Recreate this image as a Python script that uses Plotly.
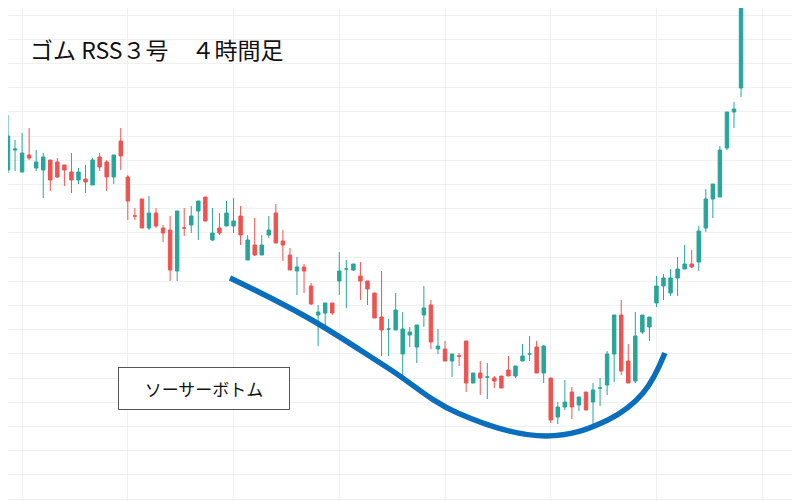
import plotly.graph_objects as go

# 4-hour candles (price units arbitrary)
opens = [338, 358, 336, 353, 340, 338, 348, 346, 343, 336, 328, 329, 323, 351, 346, 331, 367, 331, 292, 309,
         280, 295, 280, 278, 237, 280, 283, 297, 311, 268, 280, 282, 282, 292, 248, 263, 253, 273, 295, 267,
         253, 237, 241, 222, 193, 195, 205, 227, 239, 238, 232, 227, 215, 191, 179, 178, 154, 173, 161, 193,
         203, 159, 159, 147, 152, 167, 125, 135, 131, 130, 132, 138, 132, 147, 154, 161, 135, 130, 91, 101,
         116, 103, 116, 106, 120, 123, 154, 193, 147, 127, 176, 181, 205, 222, 215, 230, 239, 244, 246, 280,
         309, 311, 360, 396, 420]
highs = [393, 368, 375, 380, 358, 355, 348, 350, 343, 355, 340, 343, 350, 355, 348, 353, 380, 333, 300, 309,
         312, 300, 283, 292, 297, 300, 302, 307, 311, 300, 295, 307, 310, 302, 273, 290, 273, 292, 304, 278,
         260, 251, 244, 225, 203, 205, 205, 256, 248, 244, 246, 227, 215, 237, 189, 215, 196, 181, 183, 222,
         208, 179, 167, 154, 155, 167, 135, 147, 145, 132, 132, 152, 142, 164, 172, 167, 163, 130, 106, 128,
         121, 111, 116, 125, 130, 157, 193, 208, 164, 196, 193, 191, 232, 234, 239, 251, 263, 258, 282, 319,
         324, 362, 396, 406, 560]
lows = [335, 337, 336, 348, 337, 310, 317, 330, 322, 315, 324, 315, 323, 337, 317, 324, 338, 288, 288, 280,
        278, 280, 266, 227, 227, 272, 275, 268, 287, 267, 273, 282, 275, 263, 248, 252, 253, 270, 265, 247,
        238, 213, 215, 203, 162, 182, 193, 213, 200, 237, 208, 203, 190, 152, 152, 178, 133, 161, 145, 181,
        159, 154, 147, 131, 142, 116, 125, 113, 109, 120, 120, 132, 130, 147, 147, 135, 125, 85, 84, 98,
        89, 97, 98, 82, 102, 113, 126, 133, 125, 125, 174, 167, 201, 208, 212, 212, 239, 240, 237, 276,
        290, 311, 358, 380, 411]
closes = [372, 359, 355, 350, 346, 351, 328, 331, 338, 328, 336, 326, 348, 341, 331, 353, 352, 307, 292, 280,
          295, 282, 275, 238, 297, 280, 292, 307, 287, 275, 275, 295, 287, 273, 268, 253, 263, 278, 265, 263,
          238, 241, 237, 204, 196, 205, 195, 237, 239, 244, 227, 219, 190, 178, 179, 198, 179, 176, 183, 200,
          166, 162, 147, 154, 152, 125, 135, 130, 131, 127, 120, 132, 142, 152, 154, 135, 162, 88, 101, 106,
          101, 111, 98, 118, 120, 154, 193, 137, 125, 172, 193, 191, 222, 230, 230, 239, 244, 241, 277, 309,
          324, 358, 396, 399, 540]

# hand-drawn "saucer" guide curve (candle index, price)
curve_x = [31.5, 42.6, 53.9, 63.8, 76.3, 85.1, 90.1, 93.2]
curve_y = [230, 190, 140, 95, 72, 88, 115, 155]

title = "ゴム RSS３号　４時間足"
pattern_label = "ソーサーボトム"

idx = list(range(len(opens)))

fig = go.Figure()
fig.add_trace(go.Candlestick(
    x=idx, open=opens, high=highs, low=lows, close=closes,
    increasing=dict(line=dict(color="#26a69a", width=1), fillcolor="#26a69a"),
    decreasing=dict(line=dict(color="#ef5350", width=1), fillcolor="#ef5350"),
    whiskerwidth=0, hoverinfo="skip",
))
fig.add_trace(go.Scatter(
    x=curve_x, y=curve_y, mode="lines",
    line=dict(color="#0a6ebd", width=5.5, shape="spline", smoothing=1.1),
    hoverinfo="skip",
))

fig.update_layout(
    width=800, height=501, margin=dict(l=0, r=0, t=0, b=0, pad=0, autoexpand=False),
    plot_bgcolor="white", paper_bgcolor="white", showlegend=False,
    font=dict(family="Noto Sans CJK JP", color="#111"),
    xaxis=dict(range=[0, 113.5], rangeslider_visible=False, showticklabels=False, ticks="",
               showgrid=True, gridcolor="#f0f0f0", tick0=2, dtick=15, zeroline=False),
    yaxis=dict(range=[-1, 500], showticklabels=False, ticks="", showgrid=True, gridcolor="#f0f0f0",
               tick0=9, dtick=24.2, zeroline=False),
    annotations=[
        dict(text=title, xref="paper", yref="paper", x=0.025, y=0.918,
             xanchor="left", yanchor="middle", showarrow=False, font=dict(size=23, color="#111")),
        dict(text=pattern_label, xref="paper", yref="paper", x=0.245, y=0.24,
             xanchor="center", yanchor="middle", showarrow=False, font=dict(size=17, color="#111"),
             bordercolor="#555", borderwidth=1, borderpad=8, bgcolor="white", width=154),
    ],
)

fig.write_html("out.html")
